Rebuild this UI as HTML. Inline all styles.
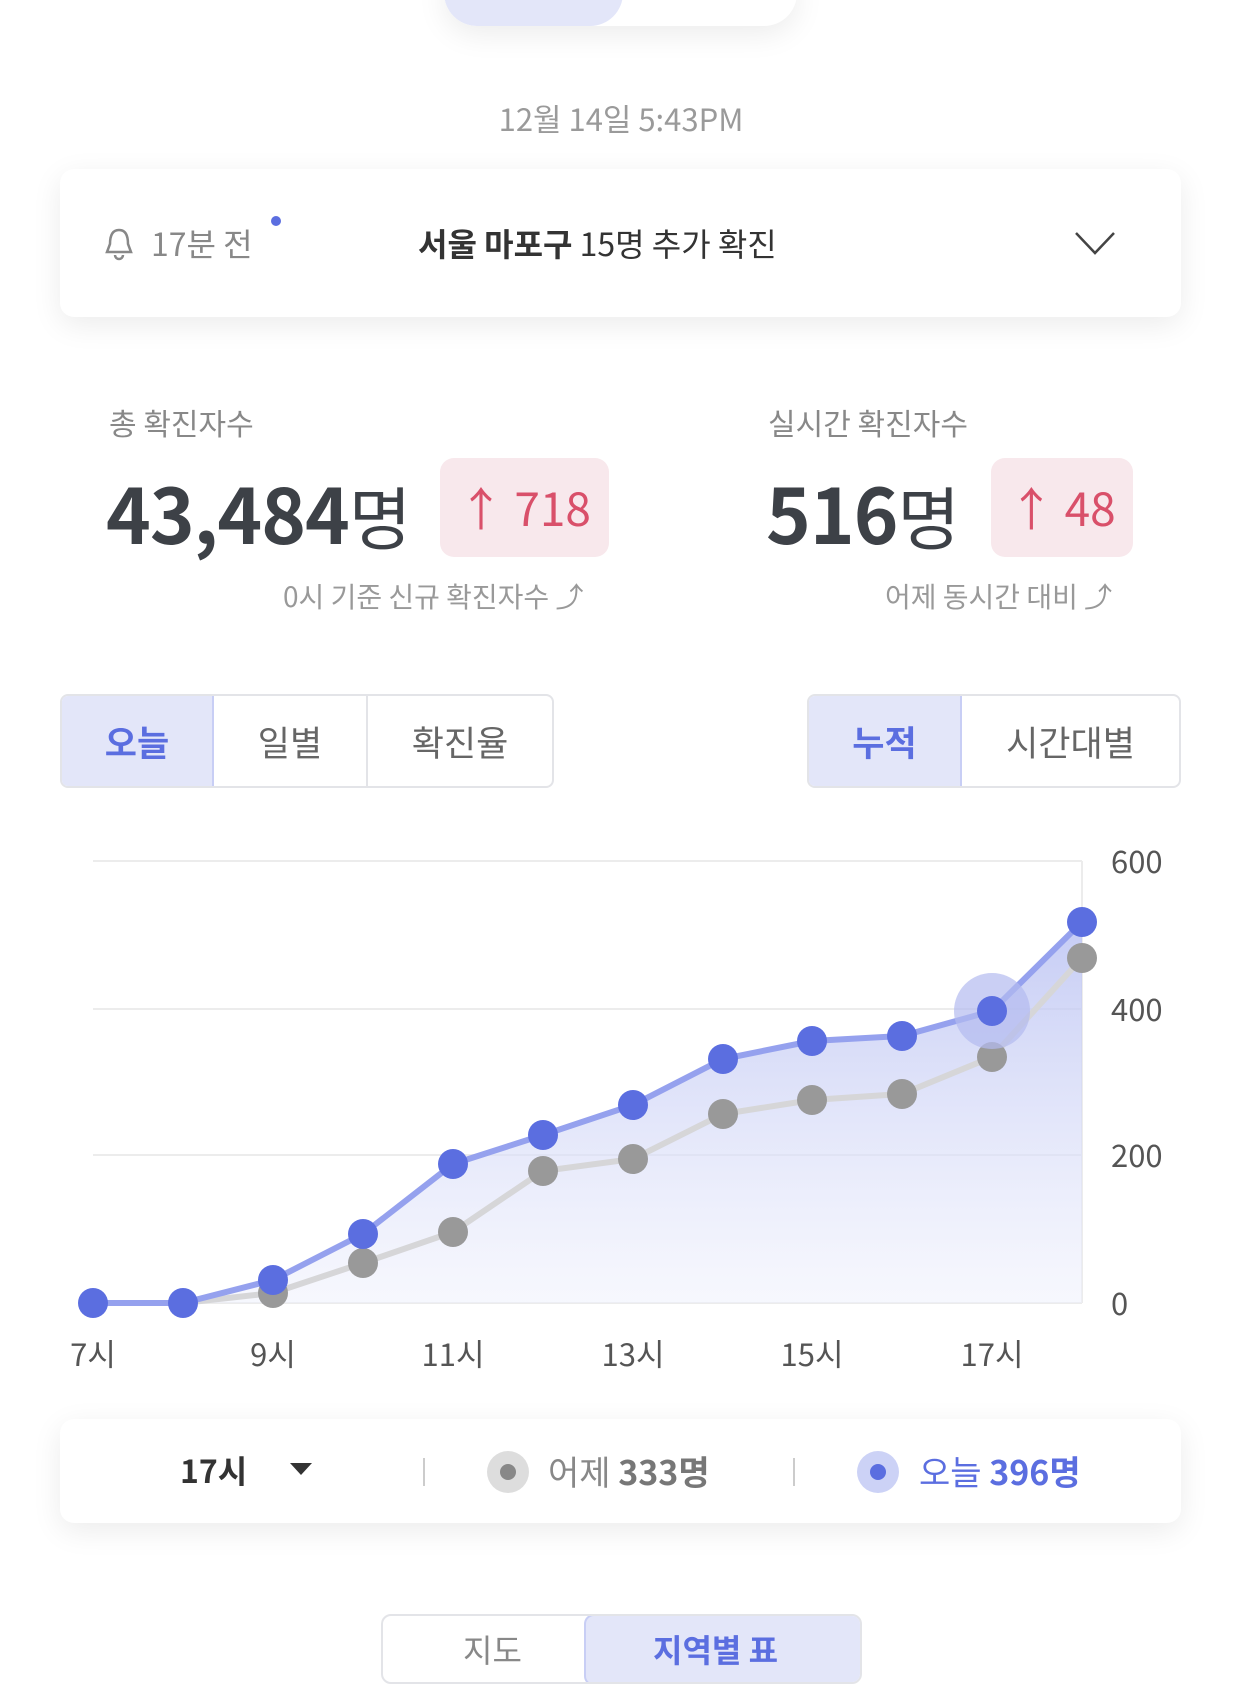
<!DOCTYPE html>
<html><head><meta charset="utf-8"><style>
*{margin:0;padding:0;box-sizing:border-box}
body{width:1242px;height:1656px;background:#fff;position:relative;overflow:hidden;font-family:"Noto Sans CJK KR","Liberation Sans",sans-serif;color:#3d4147}
.a{position:absolute;white-space:nowrap;line-height:1.2}
.card{position:absolute;background:#fff;border-radius:14px;box-shadow:0 8px 30px rgba(0,0,0,0.08)}
.seg{position:absolute;border:2px solid #e3e4e8;display:flex;border-radius:8px;overflow:hidden;background:#fff}
.seg div{display:flex;align-items:center;justify-content:center;font-size:35px;color:#666;border-right:2px solid #e3e4e8}
.seg div:last-child{border-right:none}
.seg .on{background:#e3e6f9;color:#5b6ee0;font-weight:bold}
</style></head><body>
<div class="card" style="left:444px;top:-40px;width:353px;height:66px;border-radius:33px;overflow:hidden">
<div style="position:absolute;left:0;top:0;width:179px;height:66px;background:#e3e6f9;border-radius:33px"></div>
</div>
<div class="a" style="left:0;width:1242px;text-align:center;top:99px;font-size:31px;color:#9a9a9a">12월 14일 5:43PM</div>

<div class="card" style="left:60px;top:169px;width:1121px;height:148px"></div>
<svg class="a" style="left:102px;top:226px" width="34" height="36" viewBox="0 0 34 36"><path d="M17 4 C9 4 8 12 8 18 L5 26 H29 L26 18 C26 12 25 4 17 4Z M13 29 a4 4 0 0 0 8 0" fill="none" stroke="#888" stroke-width="2.5"/></svg>
<div class="a" style="left:151px;top:224px;font-size:32px;color:#888">17분 전</div>
<div class="a" style="left:271px;top:216px;width:10px;height:10px;border-radius:5px;background:#5b6ee0"></div>
<div class="a" style="left:418px;top:224px;font-size:32px;color:#333"><b>서울 마포구</b> 15명 추가 확진</div>
<svg class="a" style="left:1074px;top:230px" width="42" height="26"><path d="M2 3 L21 23 L40 3" fill="none" stroke="#444" stroke-width="2.5"/></svg>

<div class="a" style="left:109px;top:404px;font-size:30px;color:#888">총 확진자수</div>
<div class="a" style="left:106px;top:466px;font-size:76px;font-weight:bold;line-height:90px;letter-spacing:-1px">43,484<span style="font-weight:normal;font-size:68px">명</span></div>
<div class="a" style="left:440px;top:458px;width:169px;height:99px;background:#f8e8ec;border-radius:14px;color:#d9506a;font-size:46px;line-height:99px;text-align:center">↑ 718</div>
<div class="a" style="left:283px;top:580px;font-size:28px;color:#999">0시 기준 신규 확진자수 ⤴</div>

<div class="a" style="left:768px;top:404px;font-size:30px;color:#888">실시간 확진자수</div>
<div class="a" style="left:766px;top:466px;font-size:76px;font-weight:bold;line-height:90px;letter-spacing:-1px">516<span style="font-weight:normal;font-size:68px">명</span></div>
<div class="a" style="left:991px;top:458px;width:142px;height:99px;background:#f8e8ec;border-radius:14px;color:#d9506a;font-size:46px;line-height:99px;text-align:center">↑ 48</div>
<div class="a" style="left:885px;top:580px;font-size:28px;color:#999">어제 동시간 대비 ⤴</div>

<div class="seg" style="left:60px;top:694px;width:494px;height:94px">
<div class="on" style="width:154px;border:2px solid #c8cef5;margin:-2px 0 -2px -2px;height:94px">오늘</div>
<div style="width:154px">일별</div><div style="flex:1">확진율</div></div>
<div class="seg" style="left:807px;top:694px;width:374px;height:94px">
<div class="on" style="width:155px;border:2px solid #c8cef5;margin:-2px 0 -2px -2px;height:94px">누적</div>
<div style="flex:1">시간대별</div></div>

<svg class="a" style="left:0;top:0" width="1242" height="1656">
<defs><linearGradient id="g" x1="0" y1="0" x2="0" y2="1"><stop offset="0" stop-color="#b7bff2" stop-opacity="0.8"/><stop offset="1" stop-color="#eef0fc" stop-opacity="0.5"/></linearGradient></defs>
<g stroke="#ececec" stroke-width="2"><line x1="93" y1="861" x2="1082" y2="861"/><line x1="93" y1="1009" x2="1082" y2="1009"/><line x1="93" y1="1155" x2="1082" y2="1155"/><line x1="93" y1="1303" x2="1082" y2="1303"/><line x1="1082" y1="861" x2="1082" y2="1303"/></g>
<polygon fill="url(#g)" points="93,1303 183,1303 273,1280 363,1234 453,1164 543,1135 633,1105 723,1059 812,1041 902,1036 992,1011 1082,922 1082,1303"/>
<polyline fill="none" stroke="#d6d6d8" stroke-width="6" points="93,1303 183,1303 273,1293 363,1263 453,1232 543,1171 633,1159 723,1114 812,1100 902,1094 992,1057 1082,958"/>
<g fill="#999"><circle cx="273" cy="1293" r="15"/><circle cx="363" cy="1263" r="15"/><circle cx="453" cy="1232" r="15"/><circle cx="543" cy="1171" r="15"/><circle cx="633" cy="1159" r="15"/><circle cx="723" cy="1114" r="15"/><circle cx="812" cy="1100" r="15"/><circle cx="902" cy="1094" r="15"/><circle cx="992" cy="1057" r="15"/><circle cx="1082" cy="958" r="15"/></g>
<polyline fill="none" stroke="#95a1ee" stroke-width="6" points="93,1303 183,1303 273,1280 363,1234 453,1164 543,1135 633,1105 723,1059 812,1041 902,1036 992,1011 1082,922"/>
<circle cx="992" cy="1011" r="38" fill="#b3bbf0" opacity="0.7"/>
<g fill="#5b6ee0"><circle cx="93" cy="1303" r="15"/><circle cx="183" cy="1303" r="15"/><circle cx="273" cy="1280" r="15"/><circle cx="363" cy="1234" r="15"/><circle cx="453" cy="1164" r="15"/><circle cx="543" cy="1135" r="15"/><circle cx="633" cy="1105" r="15"/><circle cx="723" cy="1059" r="15"/><circle cx="812" cy="1041" r="15"/><circle cx="902" cy="1036" r="15"/><circle cx="992" cy="1011" r="15"/><circle cx="1082" cy="922" r="15"/></g>
<g font-size="31" fill="#555" font-family="Noto Sans CJK KR,Liberation Sans,sans-serif"><text x="1111" y="873">600</text><text x="1111" y="1021">400</text><text x="1111" y="1167">200</text><text x="1111" y="1315">0</text>
<g text-anchor="middle"><text x="93" y="1366">7시</text><text x="273" y="1366">9시</text><text x="453" y="1366">11시</text><text x="633" y="1366">13시</text><text x="812" y="1366">15시</text><text x="992" y="1366">17시</text></g></g>
</svg>

<div class="card" style="left:60px;top:1419px;width:1121px;height:104px"></div>
<div class="a" style="left:180px;top:1451px;font-size:32px;font-weight:bold;color:#333">17시</div>
<div class="a" style="left:290px;top:1463px;width:0;height:0;border-left:11px solid transparent;border-right:11px solid transparent;border-top:12px solid #333"></div>
<div class="a" style="left:423px;top:1458px;width:2px;height:28px;background:#ccc"></div>
<div class="a" style="left:487px;top:1451px;width:42px;height:42px;border-radius:21px;background:#ddd"></div>
<div class="a" style="left:500px;top:1464px;width:16px;height:16px;border-radius:8px;background:#888"></div>
<div class="a" style="left:548px;top:1451px;font-size:34px;color:#888">어제 <b style="color:#777">333명</b></div>
<div class="a" style="left:793px;top:1458px;width:2px;height:28px;background:#ccc"></div>
<div class="a" style="left:857px;top:1451px;width:42px;height:42px;border-radius:21px;background:#ccd2f6"></div>
<div class="a" style="left:870px;top:1464px;width:16px;height:16px;border-radius:8px;background:#5b6ee0"></div>
<div class="a" style="left:919px;top:1451px;font-size:34px;color:#5b6ee0">오늘 <b>396명</b></div>

<div class="a" style="left:381px;top:1614px;width:481px;height:70px;border:2px solid #e3e4e8;border-radius:10px;background:#fff;overflow:hidden">
<div style="position:absolute;left:201px;top:-2px;width:280px;height:72px;background:#e3e6f9;border:2px solid #c8cef5;border-radius:10px"></div>
<div style="position:absolute;left:80px;top:14px;font-size:32px;color:#888">지도</div>
<div style="position:absolute;left:270px;top:14px;font-size:32px;color:#5b6ee0;font-weight:bold">지역별 표</div>
</div>
</body></html>
